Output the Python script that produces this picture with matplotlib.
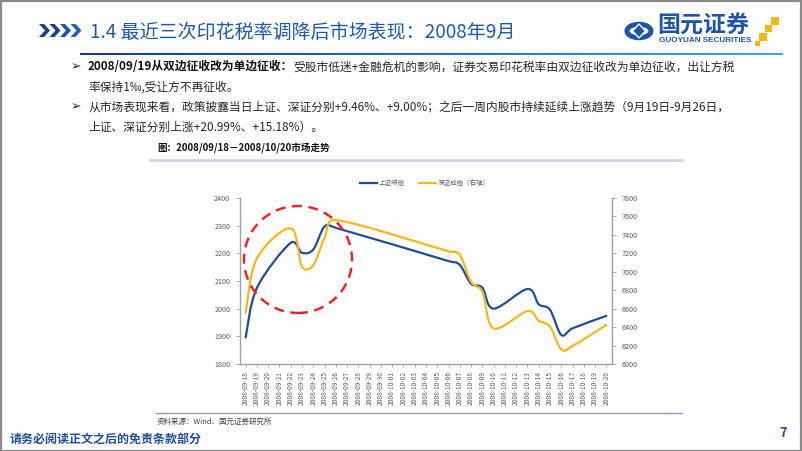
import numpy as np
import pandas as pd
import matplotlib
matplotlib.use("Agg")
import matplotlib.pyplot as plt
import matplotlib.dates as mdates
from matplotlib.path import Path
from matplotlib.patches import PathPatch, Ellipse, Rectangle, Polygon, Circle
from matplotlib.lines import Line2D
from matplotlib.colors import LinearSegmentedColormap

plt.rcParams['font.family'] = ['Noto Sans CJK SC', 'DejaVu Sans']

# ---------------- data ----------------
trade_dates = ["2008-09-18", "2008-09-19", "2008-09-22", "2008-09-23", "2008-09-24",
               "2008-09-25", "2008-09-26", "2008-10-06", "2008-10-07", "2008-10-08",
               "2008-10-09", "2008-10-10", "2008-10-13", "2008-10-14", "2008-10-15",
               "2008-10-16", "2008-10-17", "2008-10-20"]
sh_index = [1896, 2075, 2238, 2202, 2214, 2297, 2292, 2172, 2158, 2090,
            2076, 2000, 2071, 2016, 1996, 1905, 1929, 1974]
sz_index = [6556, 7146, 7471, 7055, 7070, 7370, 7562, 7222, 7183, 6892,
            6784, 6386, 6574, 6470, 6405, 6158, 6195, 6423]
left_ticks = [1800, 1900, 2000, 2100, 2200, 2300, 2400]
right_ticks = [6000, 6200, 6400, 6600, 6800, 7000, 7200, 7400, 7600, 7800]
axis_start, axis_end = "2008-09-18", "2008-10-20"
legend_labels = ["上证综指", "深证成指（右轴）"]

title = "1.4 最近三次印花税率调降后市场表现：2008年9月"
bullet1_bold = "2008/09/19从双边征收改为单边征收："
bullet1_rest = "受股市低迷+金融危机的影响，证券交易印花税率由双边征收改为单边征收，出让方税"
bullet1_line2 = "率保持1‰,受让方不再征收。"
bullet2_line1 = "从市场表现来看，政策披露当日上证、深证分别+9.46%、+9.00%；之后一周内股市持续延续上涨趋势（9月19日-9月26日，"
bullet2_line2 = "上证、深证分别上涨+20.99%、+15.18%）。"
caption = "图：2008/09/18－2008/10/20市场走势"
source = "资料来源：Wind、国元证券研究所"
footer = "请务必阅读正文之后的免责条款部分"
page_no = "7"

BLUE = "#1f4e98"
YELLOW = "#f4b81c"
TXT = "#262626"
GREY = "#595959"

W, H = 802, 451
fig = plt.figure(figsize=(W / 100, H / 100), dpi=100)
fig.patch.set_facecolor("white")


def fx(x):
    return x / W


def fy(y):
    return 1 - y / H


def pt(px):
    return px * 0.72


# ---------------- frame & header ----------------
fig.add_artist(Rectangle((0.5 / W, 0.5 / H), 1 - 1.5 / W, 1 - 1.5 / H, transform=fig.transFigure,
                         fill=False, edgecolor="#8a8a8a", lw=1.6))

# chevrons
chev_cols = ["#1a3f86", "#1a3f86", "#1f55a8", "#2462b8"]
for i in range(4):
    x0 = 39 + i * 10.5
    poly = [(x0, 24), (x0 + 5, 24), (x0 + 11, 30.5), (x0 + 5, 37), (x0, 37), (x0 + 6, 30.5)]
    fig.add_artist(Polygon([(fx(a), fy(b)) for a, b in poly], closed=True, transform=fig.transFigure,
                           facecolor=chev_cols[i], edgecolor="none"))

fig.text(fx(90), fy(32), title, fontsize=pt(19), color="#1f5aa8", ha="left", va="center")

# gradient line under title
grad = np.linspace(0, 1, 256).reshape(1, -1)
cm = LinearSegmentedColormap.from_list("g", ["#123c8a", "#1f6fc4", "#3aa8e8"])
gax = fig.add_axes([fx(80), fy(55.5), fx(783 - 80), 3 / H])
gax.imshow(grad, aspect="auto", cmap=cm)
gax.set_axis_off()

# logo
fig.add_artist(Circle((fx(639), fy(31)), 12 / W, transform=fig.transFigure, facecolor="none",
                      edgecolor="#1f55a6", lw=3.6))
fig.add_artist(Polygon([(fx(639), fy(24)), (fx(645.5), fy(31)), (fx(639), fy(38)), (fx(632.5), fy(31))],
                       closed=True, transform=fig.transFigure, facecolor="#1f55a6", edgecolor="white", lw=1))
fig.text(fx(657), fy(26.5), "国元证券", fontsize=pt(23), fontweight="bold", color="#1f55a6",
         ha="left", va="center")
fig.text(fx(705), fy(41), "GUOYUAN SECURITIES", fontsize=pt(8.2), fontweight="bold", color="#1f55a6",
         ha="center", va="center", family="Liberation Sans")
for (sx, sy, s) in [(771, 17, 8), (765, 25, 7), (759, 33, 8), (755, 41, 5)]:
    fig.add_artist(Rectangle((fx(sx), fy(sy + s)), s / W, s / H, transform=fig.transFigure,
                             facecolor="#f5b817", edgecolor="none"))

# ---------------- bullet text ----------------
renderer = fig.canvas.get_renderer()
body_pt = pt(11.7)
for yb in (67, 107):
    fig.text(fx(71), fy(yb), "➢", fontsize=pt(12.5), color=TXT, ha="left", va="center",
             family=["DejaVu Sans"])
t1 = fig.text(fx(88), fy(67), bullet1_bold, fontsize=body_pt, fontweight="bold", color="#111111",
              ha="left", va="center")
bb = t1.get_window_extent(renderer)
fig.text(bb.x1 / W, fy(67), bullet1_rest, fontsize=body_pt, color=TXT, ha="left", va="center")
fig.text(fx(88), fy(87), bullet1_line2, fontsize=body_pt, color=TXT, ha="left", va="center")
fig.text(fx(88), fy(107), bullet2_line1, fontsize=body_pt, color=TXT, ha="left", va="center")
fig.text(fx(88), fy(127), bullet2_line2, fontsize=body_pt, color=TXT, ha="left", va="center")
fig.text(fx(157), fy(148), caption, fontsize=pt(9.6), fontweight="bold", color="#111111",
         ha="left", va="center")

fig.add_artist(Line2D([fx(150), fx(682)], [fy(160), fy(160)], transform=fig.transFigure,
                      color="#cdd6e2", lw=2))
fig.add_artist(Line2D([fx(156), fx(682)], [fy(413), fy(413)], transform=fig.transFigure,
                      color="#8aa0ba", lw=1))
fig.text(fx(157), fy(422), source, fontsize=pt(7.5), color="#404040", ha="left", va="center")
fig.text(fx(10), fy(439), footer, fontsize=pt(12), fontweight="bold", color="#1f4e98",
         ha="left", va="center")
fig.text(fx(783), fy(433), page_no, fontsize=pt(13), fontweight="bold", color="#1f4e98",
         ha="center", va="center")

# ---------------- chart ----------------
ax = fig.add_axes([fx(240), fy(364), fx(612 - 240), (364 - 198) / H])
ax2 = ax.twinx()
dates = pd.to_datetime(trade_dates)
xnum = mdates.date2num(dates)
d0 = mdates.date2num(pd.Timestamp(axis_start))
d1 = mdates.date2num(pd.Timestamp(axis_end))
for a in (ax, ax2):
    a.set_xlim(d0 - 0.5, d1 + 0.5)
    a.set_facecolor("none")
ax.set_ylim(left_ticks[0], left_ticks[-1])
ax2.set_ylim(right_ticks[0], right_ticks[-1])


def smooth_patch(a, xs, ys, color):
    disp = a.transData.transform(np.column_stack([xs, ys]))
    n = len(disp)
    verts = [disp[0]]
    codes = [Path.MOVETO]
    for i in range(n - 1):
        p1, p2 = disp[i], disp[i + 1]
        p0 = disp[i - 1] if i > 0 else p1
        p3 = disp[i + 2] if i + 2 < n else p2
        d12 = np.hypot(*(p2 - p1))
        d02 = np.hypot(*(p2 - p0))
        d13 = np.hypot(*(p3 - p1))
        f0 = 1 / 6 if d02 == 0 else min(1 / 6, 0.5 * d12 / d02)
        f1 = 1 / 6 if d13 == 0 else min(1 / 6, 0.5 * d12 / d13)
        c1 = p1 + (p2 - p0) * f0
        c2 = p2 - (p3 - p1) * f1
        verts += [c1, c2, p2]
        codes += [Path.CURVE4] * 3
    data_verts = a.transData.inverted().transform(np.array(verts))
    patch = PathPatch(Path(data_verts, codes), facecolor="none", edgecolor=color, lw=1.6,
                      capstyle="round", joinstyle="round")
    a.add_patch(patch)


smooth_patch(ax, xnum, sh_index, BLUE)
smooth_patch(ax2, xnum, sz_index, YELLOW)

ax.set_yticks(left_ticks)
ax2.set_yticks(right_ticks)
ax.xaxis.set_major_locator(mdates.DayLocator())
ax.xaxis.set_major_formatter(mdates.DateFormatter("%Y-%m-%d"))
ax.tick_params(axis="x", labelrotation=90, labelsize=pt(6.6), colors=GREY, length=2, width=0.6,
               pad=3, color="#a0a0a0")
ax.tick_params(axis="y", labelsize=pt(7.2), colors=GREY, length=3, width=0.6, pad=4, color="#a0a0a0")
ax2.tick_params(axis="y", labelsize=pt(7.2), colors=GREY, length=3, width=0.6, pad=4, color="#a0a0a0")
ax2.tick_params(axis="x", bottom=False, labelbottom=False)
for a in (ax, ax2):
    a.spines["top"].set_visible(False)
    for s in ("left", "right", "bottom"):
        a.spines[s].set_color("#a0a0a0")
        a.spines[s].set_linewidth(1.0)
ax.spines["right"].set_visible(False)
ax2.spines["left"].set_visible(False)
ax2.spines["bottom"].set_visible(False)

handles = [Line2D([], [], color=BLUE, lw=1.6), Line2D([], [], color=YELLOW, lw=1.6)]
fig.legend(handles, legend_labels, loc="center", bbox_to_anchor=(fx(425), fy(183)), ncol=2,
           frameon=False, fontsize=pt(6.5), handlelength=2.6, handletextpad=0.3, columnspacing=2.2,
           labelcolor=GREY)

# red dashed circle
fig.add_artist(Ellipse((fx(298), fy(259.5)), 108 / W, 107 / H, transform=fig.transFigure,
                       fill=False, edgecolor="#e8262d", lw=1.8, linestyle=(0, (4, 2.6))))

fig.savefig("out.png", dpi=100, facecolor="white")
